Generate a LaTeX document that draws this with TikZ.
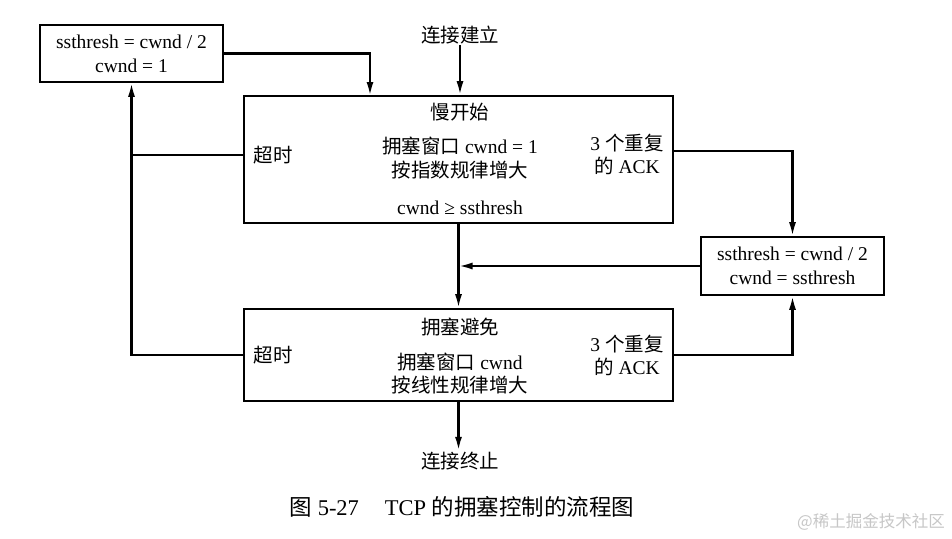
\documentclass[tikz,border=0pt]{standalone}
\usepackage{fontspec}
\setmainfont{Liberation Serif}
\newfontfamily\cjk{Noto Sans CJK SC}
\usetikzlibrary{arrows.meta,calc}
\newcommand\zh[1]{{\cjk #1}}
\begin{document}
\begin{tikzpicture}[x=1pt,y=-1pt,
  font=\fontsize{19.5}{24}\selectfont,
  box/.style={draw,line width=1.6pt,inner sep=0pt,align=center},
  conn/.style={line width=2.3pt},
  arr/.style={conn,-{Latex[length=14pt,width=7pt]}},
  lbl/.style={inner sep=1pt,align=center}]
\useasboundingbox[fill=white] (0,0) rectangle (952,538);
% boxes
\node[box,minimum width=183pt,minimum height=57pt] (tl) at (131.5,53.5) {ssthresh = cwnd / 2\\cwnd = 1};
\node[box,minimum width=429pt,minimum height=127pt] (ss) at (458.5,159.5) {};
\node[box,minimum width=183pt,minimum height=58pt] (rb) at (792.5,266) {ssthresh = cwnd / 2\\cwnd = ssthresh};
\node[box,minimum width=429pt,minimum height=92pt] (ca) at (458.5,355) {};
% texts
\node[lbl] (start) at (460,35) {\zh{连接建立}};
\node[lbl] (ss1) at (460,112) {\zh{慢开始}};
\node[lbl] (ss2) at (460,146) {\zh{拥塞窗口} cwnd = 1};
\node[lbl] (ss3) at (460,170) {\zh{按指数规律增大}};
\node[lbl] (ss4) at (460,208) {cwnd ≥ ssthresh};
\node[lbl] (sst) at (273,155) {\zh{超时}};
\node[lbl,font=\fontsize{19.5}{23}\selectfont] (ssd) at (627,154) {3 \zh{个重复}\\\zh{的} ACK};
\node[lbl] (ca1) at (460,327) {\zh{拥塞避免}};
\node[lbl] (ca2) at (460,362) {\zh{拥塞窗口} cwnd};
\node[lbl] (ca3) at (460,385) {\zh{按线性规律增大}};
\node[lbl] (cat) at (273,355) {\zh{超时}};
\node[lbl,font=\fontsize{19.5}{23}\selectfont] (cad) at (627,355) {3 \zh{个重复}\\\zh{的} ACK};
\node[lbl] (endn) at (460,461) {\zh{连接终止}};
\node[lbl,font=\fontsize{22.5}{26}\selectfont] (cap) at (462,507) {\zh{图} 5-27\hspace{26pt}TCP \zh{的拥塞控制的流程图}};
\node[lbl,font=\cjk\fontsize{16.5}{20}\selectfont,text=black!22,anchor=east] (wm) at (946,522) {@稀土掘金技术社区};
% coordinates
\coordinate (tlin) at (370,96);
\coordinate (sstl) at (244,155);
\coordinate (ssdl) at (673,151);
% connectors
\draw[arr] (start) -- (start |- ss.north);
\draw[arr] (tl.east) -| (tlin);
\draw[arr] (ss.south) -- (ca.north);
\draw[arr] (ca.south) -- (ca.south |- endn.north);
\draw[arr] (ca.west) -| (tl.south);
\draw[conn] (sstl) -- (sstl -| tl.south);
\draw[arr] (ssdl) -| (rb.north);
\draw[arr] (ca.east) -| (rb.south);
\draw[arr] (rb.west) -- (rb.west -| ss.south);
\end{tikzpicture}
\end{document}
